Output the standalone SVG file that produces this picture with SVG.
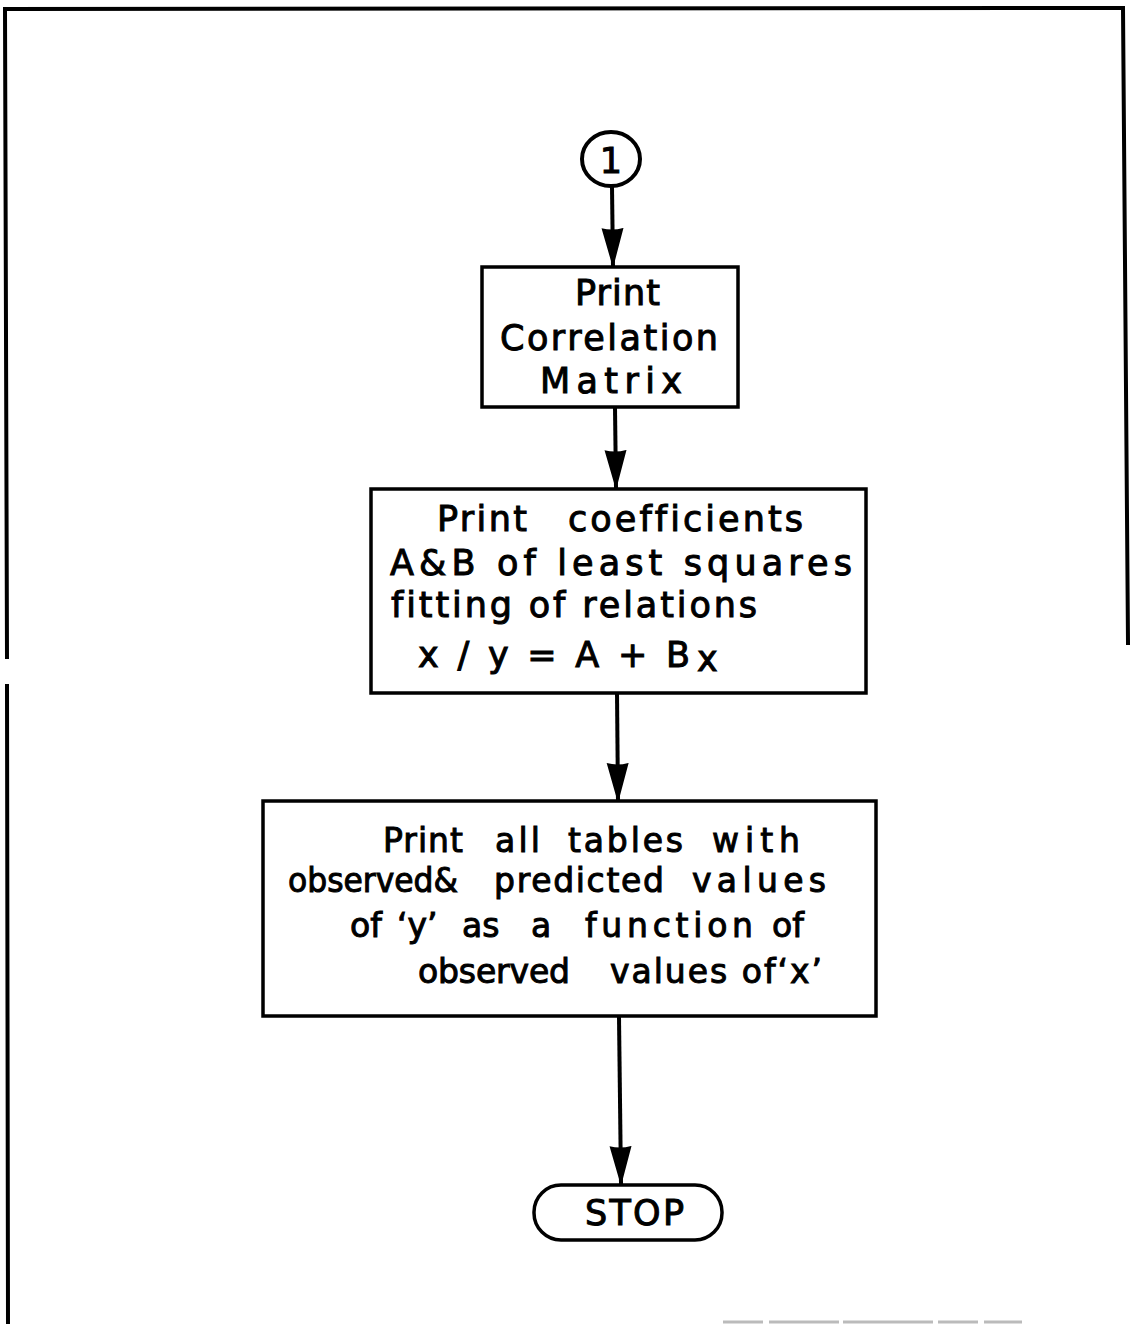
<svg xmlns="http://www.w3.org/2000/svg" width="1132" height="1324" viewBox="0 0 1132 1324">
  <style>
    .frame { fill: none; stroke: #000; stroke-width: 4; stroke-linecap: square; }
    .box { fill: #fff; stroke: #000; stroke-width: 3.5; }
    .flow { fill: none; stroke: #000; stroke-width: 4; marker-end: url(#head); }
    .lbl { font-family: "DejaVu Sans", "Liberation Sans", sans-serif; font-size: 35px; fill: #000; stroke: #000; stroke-width: 1; font-variant-ligatures: none; }
    .sm { font-size: 33px; }
  </style>
  <defs>
    <marker id="head" markerUnits="userSpaceOnUse" markerWidth="40" markerHeight="24" viewBox="0 0 40 24" refX="38" refY="12" orient="auto">
      <path d="M0,1 L40,12 L0,23 Q3,12 0,1 z" fill="#000"/>
    </marker>
  </defs>

  <rect width="1132" height="1324" fill="#fff"/>

  <!-- page frame -->
  <g id="frame">
    <path class="frame" d="M7,657 L5,9 L1123,8 L1128,643"/>
    <path class="frame" d="M7,686 L8,1324"/>
    <path d="M723,1322 L1022,1322" stroke="#bbb" stroke-width="3" stroke-dasharray="40,6,70,4,90,5"/>
  </g>

  <!-- connectors -->
  <g id="connectors">
    <line class="flow" x1="612" y1="187" x2="613" y2="266"/>
    <line class="flow" x1="615" y1="408" x2="616" y2="488"/>
    <line class="flow" x1="617" y1="693" x2="618" y2="801"/>
    <line class="flow" x1="619" y1="1017" x2="621" y2="1184"/>
  </g>

  <!-- connector 1 -->
  <g id="start">
    <ellipse cx="611" cy="159" rx="29" ry="27" fill="#fff" stroke="#000" stroke-width="4"/>
    <text class="lbl" font-size="38" x="611" y="173" text-anchor="middle">1</text>
  </g>

  <!-- print correlation matrix -->
  <g id="print-matrix">
    <rect class="box" x="482" y="267" width="256" height="140"/>
    <text class="lbl" x="575" y="305" textLength="85" lengthAdjust="spacing">Print</text>
    <text class="lbl" x="500" y="350" textLength="218" lengthAdjust="spacing">Correlation</text>
    <text class="lbl" x="540" y="393" textLength="142" lengthAdjust="spacing">Matrix</text>
  </g>

  <!-- print coefficients -->
  <g id="print-coefficients">
    <rect class="box" x="371" y="489" width="495" height="204"/>
    <text class="lbl" x="437" y="531" textLength="90" lengthAdjust="spacing">Print</text>
    <text class="lbl" x="568" y="531" textLength="235" lengthAdjust="spacing">coefficients</text>
    <text class="lbl" x="390" y="575" textLength="462" lengthAdjust="spacing">A&amp;B of least squares</text>
    <text class="lbl" x="391" y="617" textLength="366" lengthAdjust="spacing">fitting of relations</text>
    <text class="lbl" x="418" y="667" textLength="272" lengthAdjust="spacing">x / y  =  A + B</text>
    <text class="lbl" font-size="30" x="697" y="671">x</text>
  </g>

  <!-- print tables -->
  <g id="print-tables">
    <rect class="box" x="263" y="801" width="613" height="215"/>
    <text class="lbl sm" x="383" y="852" textLength="80" lengthAdjust="spacing">Print</text>
    <text class="lbl sm" x="495" y="852" textLength="45" lengthAdjust="spacing">all</text>
    <text class="lbl sm" x="568" y="852" textLength="115" lengthAdjust="spacing">tables</text>
    <text class="lbl sm" x="712" y="852" textLength="88" lengthAdjust="spacing">with</text>

    <text class="lbl sm" x="288" y="892" textLength="170" lengthAdjust="spacingAndGlyphs">observed&amp;</text>
    <text class="lbl sm" x="494" y="892" textLength="170" lengthAdjust="spacing">predicted</text>
    <text class="lbl sm" x="692" y="892" textLength="134" lengthAdjust="spacing">values</text>

    <text class="lbl sm" x="350" y="937">of</text>
    <text class="lbl sm" x="397" y="937">‘y’</text>
    <text class="lbl sm" x="462" y="937">as</text>
    <text class="lbl sm" x="531" y="937">a</text>
    <text class="lbl sm" x="585" y="937" textLength="168" lengthAdjust="spacing">function</text>
    <text class="lbl sm" x="772" y="937">of</text>

    <text class="lbl sm" x="418" y="983" textLength="152" lengthAdjust="spacing">observed</text>
    <text class="lbl sm" x="610" y="983" textLength="212" lengthAdjust="spacing">values of‘x’</text>
  </g>

  <!-- stop -->
  <g id="stop">
    <rect class="box" x="534" y="1185" width="188" height="55" rx="27" ry="27"/>
    <text class="lbl" x="585" y="1225" textLength="99" lengthAdjust="spacing">STOP</text>
  </g>
</svg>
